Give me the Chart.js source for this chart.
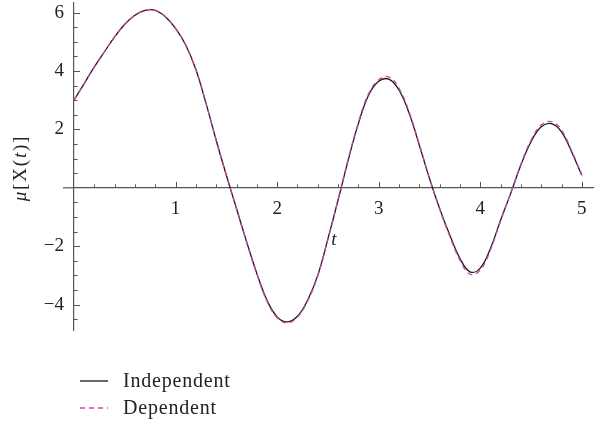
<!DOCTYPE html>
<html>
<head>
<meta charset="utf-8">
<script src="https://cdn.jsdelivr.net/npm/chart.js@4/dist/chart.umd.min.js"></script>
<style>
  html, body { margin: 0; padding: 0; background: #fff; }
  #wrap { width: 594px; height: 423px; }
</style>
</head>
<body>
<div id="wrap"><canvas id="chart" width="594" height="423"></canvas></div>
<script>
let tValues = [0, 0.1, 0.2, 0.3, 0.4, 0.5, 0.6, 0.7, 0.8, 0.9,
               1.0, 1.1, 1.2, 1.3, 1.4, 1.5, 1.6, 1.7, 1.8, 1.9,
               2.0, 2.1, 2.2, 2.3, 2.4, 2.5, 2.6, 2.7, 2.8, 2.9,
               3.0, 3.1, 3.2, 3.3, 3.4, 3.5, 3.6, 3.7, 3.8, 3.9,
               4.0, 4.1, 4.2, 4.3, 4.4, 4.5, 4.6, 4.7, 4.8, 4.9, 5.0];

let independent = [3.00, 3.57, 4.14, 4.66, 5.17, 5.60, 5.91, 6.08, 6.08, 5.86,
                   5.46, 4.89, 4.05, 2.89, 1.63, 0.43, -0.71, -1.85, -2.93, -3.85,
                   -4.42, -4.59, -4.40, -3.85, -3.00, -1.75, -0.42, 0.95, 2.20, 3.17,
                   3.65, 3.72, 3.35, 2.55, 1.46, 0.32, -0.71, -1.62, -2.42, -2.88,
                   -2.75, -2.08, -1.11, -0.19, 0.78, 1.58, 2.09, 2.20, 1.92, 1.23, 0.43];

let dependent = [3.00, 3.57, 4.14, 4.66, 5.17, 5.60, 5.91, 6.08, 6.08, 5.86,
                 5.46, 4.89, 4.05, 2.89, 1.63, 0.43, -0.72, -1.87, -2.95, -3.88,
                 -4.45, -4.63, -4.43, -3.88, -3.02, -1.76, -0.41, 0.98, 2.24, 3.22,
                 3.70, 3.80, 3.41, 2.60, 1.49, 0.33, -0.73, -1.66, -2.48, -2.96,
                 -2.82, -2.13, -1.13, -0.18, 0.81, 1.63, 2.15, 2.27, 1.98, 1.27, 0.45];

let seriesNames = ['Independent', 'Dependent'];
let seriesColors = ['#1a1a1a', '#cc44aa'];
let xTickLabels = [1, 2, 3, 4, 5];
let yTickLabels = [-4, -2, 2, 4, 6];

let serif = "'Liberation Serif', 'DejaVu Serif', serif";
let axisColor = '#555555';

let toPoints = function(values) {
  return values.map(function(v, i) { return {x: tValues[i], y: v}; });
};

// minus sign like the original
let fmt = function(v) { return v < 0 ? '\u2212' + Math.abs(v) : String(v); };

// no extra room for first/last labels
let noLabelPad = function(scale) {
  scale.paddingTop = 0; scale.paddingBottom = 0;
  scale.paddingLeft = 0; scale.paddingRight = 0;
};

// tick marks inside the axes + axis labels + legend
let axisDecor = {
  id: 'axisDecor',
  afterDraw: function(chart) {
    let ctx = chart.ctx;
    let xs = chart.scales.x;
    let ys = chart.scales.y;
    let x0 = xs.getPixelForValue(0);
    let y0 = ys.getPixelForValue(0);
    ctx.save();
    ctx.strokeStyle = axisColor;

    // x axis runs a little past the y axis on the left
    ctx.lineWidth = 1.2;
    ctx.beginPath(); ctx.moveTo(63, y0); ctx.lineTo(x0, y0); ctx.stroke();

    ctx.lineWidth = 1;
    // x ticks: major every 1, minor every 0.2
    for (let i = 1; i <= 25; i++) {
      let px = Math.round(xs.getPixelForValue(i / 5)) + 0.5;
      let len = (i % 5 == 0) ? 6 : 3.5;
      ctx.beginPath(); ctx.moveTo(px, y0); ctx.lineTo(px, y0 - len); ctx.stroke();
    }
    // y ticks: major every 2, minor every 0.5
    for (let j = -9; j <= 12; j++) {
      if (j == 0) continue;
      let py = Math.round(ys.getPixelForValue(j / 2)) + 0.5;
      let len = (j % 4 == 0) ? 6 : 3.5;
      ctx.beginPath(); ctx.moveTo(x0, py); ctx.lineTo(x0 + len, py); ctx.stroke();
    }

    // y axis label, reads bottom to top
    ctx.fillStyle = '#222';
    ctx.textBaseline = 'middle';
    ctx.save();
    ctx.translate(21, 168);
    ctx.rotate(-Math.PI / 2);
    let parts = [['\u03bc', 'italic'], ['[', ''], ['X', ''], ['(', ''], ['t', 'italic'], [')', ''], [']', '']];
    let widths = parts.map(function(p) { ctx.font = p[1] + ' 19px ' + serif; return ctx.measureText(p[0]).width + 1.8; });
    let total = widths.reduce(function(a, b) { return a + b; }, 0);
    let cx = -total / 2;
    parts.forEach(function(p, k) {
      ctx.font = p[1] + ' 19px ' + serif;
      ctx.textAlign = 'left';
      ctx.fillText(p[0], cx, 0);
      cx += widths[k];
    });
    ctx.restore();

    // x axis label
    ctx.font = 'italic 19px ' + serif;
    ctx.textAlign = 'center';
    ctx.fillText('t', 334, 240);

    // legend
    chart.data.datasets.forEach(function(ds, k) {
      let ly = 381 + k * 27;
      ctx.strokeStyle = ds.borderColor;
      ctx.lineWidth = ds.borderWidth;
      ctx.setLineDash(ds.borderDash || []);
      ctx.beginPath(); ctx.moveTo(80, ly); ctx.lineTo(108, ly); ctx.stroke();
      ctx.setLineDash([]);
      ctx.font = '20px ' + serif;
      ctx.letterSpacing = '0.8px';
      ctx.textAlign = 'left';
      ctx.fillStyle = '#222';
      ctx.fillText(ds.label, 123, ly + 1);
      ctx.letterSpacing = '0px';
    });
    ctx.restore();
  }
};

let chart = new Chart(document.getElementById('chart'), {
  type: 'line',
  data: {
    datasets: [
      {
        label: seriesNames[0],
        data: toPoints(independent),
        borderColor: seriesColors[0],
        borderWidth: 1.3,
        pointRadius: 0,
        tension: 0.4,
        fill: false,
        order: 1
      },
      {
        label: seriesNames[1],
        data: toPoints(dependent),
        borderColor: seriesColors[1],
        borderWidth: 1.3,
        borderDash: [5, 4],
        pointRadius: 0,
        tension: 0.4,
        fill: false,
        order: 0
      }
    ]
  },
  options: {
    responsive: false,
    animation: false,
    devicePixelRatio: 1,
    layout: { padding: { left: 14, right: 0, top: 3, bottom: 93 } },
    plugins: { legend: { display: false }, tooltip: { enabled: false } },
    scales: {
      x: {
        type: 'linear',
        position: { y: 0 },
        min: 0,
        max: 5.12,
        afterBuildTicks: function(scale) { scale.ticks = xTickLabels.map(function(v) { return {value: v}; }); },
        afterFit: noLabelPad,
        grid: { display: false, drawTicks: false },
        border: { display: true, color: axisColor, width: 1.2 },
        ticks: {
          color: '#222',
          padding: 10,
          maxRotation: 0,
          font: { family: serif, size: 19 },
          callback: function(v) { return fmt(v); }
        }
      },
      y: {
        type: 'linear',
        position: 'left',
        min: -4.87,
        max: 6.33,
        afterBuildTicks: function(scale) { scale.ticks = yTickLabels.map(function(v) { return {value: v}; }); },
        afterFit: function(scale) { noLabelPad(scale); scale.width = 60; },
        grid: { display: false, drawTicks: false },
        border: { display: true, color: axisColor, width: 1.2 },
        ticks: {
          color: '#222',
          padding: 10,
          font: { family: serif, size: 19 },
          callback: function(v) { return fmt(v); }
        }
      }
    }
  },
  plugins: [axisDecor]
});
</script>
</body>
</html>
